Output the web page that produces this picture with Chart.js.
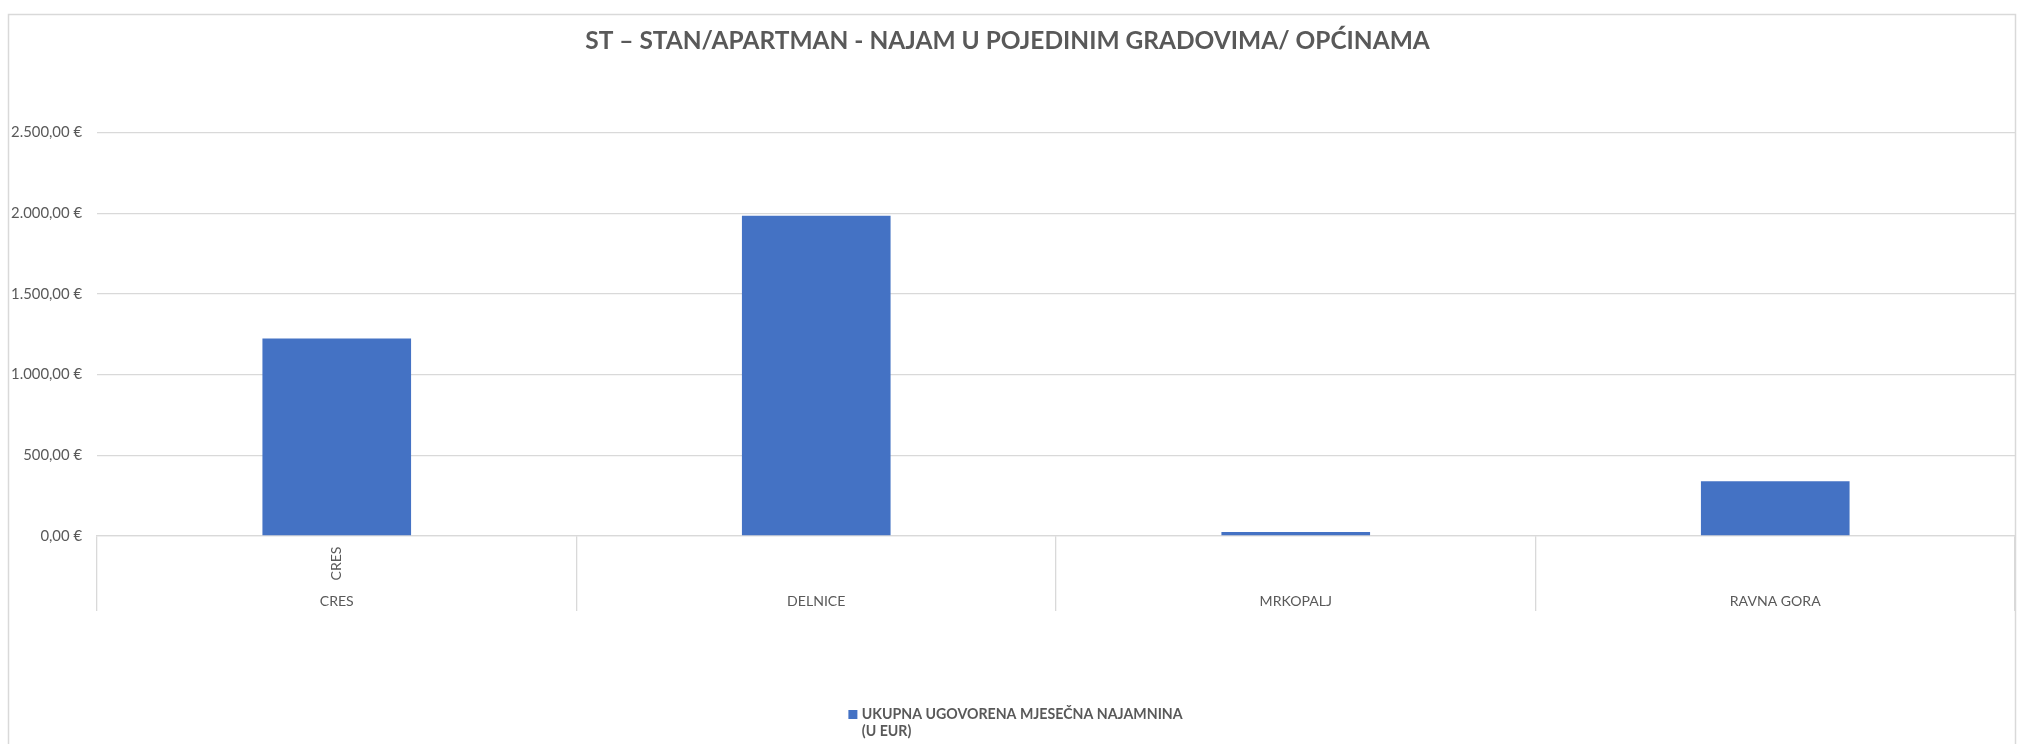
<!DOCTYPE html>
<html>
<head>
<meta charset="utf-8">
<script src="https://cdn.jsdelivr.net/npm/chart.js@4"></script>
<style>
html, body { margin:0; padding:0; background:#fff; }
</style>
</head>
<body>
<canvas id="rentChart" width="2028" height="744"></canvas>
<script>
// =========================================
// DATA
// =========================================

const cities = ["CRES", "DELNICE", "MRKOPALJ", "RAVNA GORA"];
const innerLabels = ["CRES", "", "", ""];
const rentValues = [1225, 1985, 25, 340];

const yTicks = [0, 500, 1000, 1500, 2000, 2500];
const yTickLabels = ["0,00 €", "500,00 €", "1.000,00 €", "1.500,00 €", "2.000,00 €", "2.500,00 €"];

const chartTitle = "ST – STAN/APARTMAN - NAJAM U POJEDINIM GRADOVIMA/ OPĆINAMA";
const legendLines = ["UKUPNA UGOVORENA MJESEČNA NAJAMNINA", "(U EUR)"];

// =========================================
// LOOK
// =========================================

const FONT = 'Lato, "Open Sans", sans-serif';
const TEXT = '#595959';
const LINE = '#d9d9d9';
const BAR = '#4472c4';

// size fonts so the text widths match the original (Calibri) widths
const mctx = document.createElement('canvas').getContext('2d');
function fitSize(text, width, weight){
    mctx.font = weight + ' 100px ' + FONT;
    return 100 * width / mctx.measureText(text).width;
}

const titleSize = fitSize(chartTitle, 845, 'bold');
const xSize = fitSize("RAVNA GORA", 91, 'normal');
const ySize = fitSize("2.500,00 €", 71, 'normal');
const legendSize = fitSize(legendLines[0], 321, 'bold');

const TICK_LEN = 75;

// =========================================
// EXTRA DRAWING (frame, inner labels, legend)
// =========================================

const excelBits = {
    id: 'excelBits',
    beforeDraw(chart){
        const c = chart.ctx;
        c.save();
        c.fillStyle = '#fff';
        c.fillRect(0, 0, chart.width, chart.height);
        c.strokeStyle = LINE;
        c.lineWidth = 1.5;
        c.strokeRect(8.5, 14.5, 2007, 800);
        c.restore();
    },
    afterDraw(chart){
        const c = chart.ctx;
        const xs = chart.scales.x;
        c.save();

        // inner category level, rotated
        c.fillStyle = TEXT;
        c.font = xSize + 'px ' + FONT;
        c.textAlign = 'right';
        c.textBaseline = 'middle';
        innerLabels.forEach((lab, i) => {
            if(!lab) return;
            c.save();
            c.translate(xs.getPixelForValue(i), xs.top + 10.5);
            c.rotate(-Math.PI / 2);
            c.fillText(lab, 0, 0);
            c.restore();
        });

        // legend
        c.font = 'bold ' + legendSize + 'px ' + FONT;
        c.textAlign = 'left';
        const textW = c.measureText(legendLines[0]).width;
        const left = 1015.5 - (13.4 + textW) / 2;
        const ds = chart.data.datasets[0];
        c.fillStyle = ds.backgroundColor;
        c.fillRect(left, 710, 9, 9);
        c.fillStyle = TEXT;
        legendLines.forEach((line, i) => {
            c.fillText(line, left + 13.4, 714.5 + i * 17.3);
        });

        c.restore();
    }
};

// =========================================
// CHART
// =========================================

const ctx = document.getElementById('rentChart');

const chart = new Chart(ctx, {

    type: 'bar',

    data: {
        labels: cities,
        datasets: [
            {
                label: legendLines.join(' '),
                data: rentValues,
                backgroundColor: BAR,
                barPercentage: 0.31,
                categoryPercentage: 1
            }
        ]
    },

    options: {

        responsive: false,
        animation: false,

        layout: {
            padding: { left: 0, right: 13, top: 0, bottom: 108 }
        },

        plugins: {
            legend: { display: false },
            tooltip: { enabled: false },
            title: {
                display: true,
                text: chartTitle,
                color: TEXT,
                font: { family: FONT, size: titleSize, weight: 'bold', lineHeight: 1.2 },
                padding: {
                    top: 41 - 0.6 * titleSize,
                    bottom: 132.7 - 41 - 0.6 * titleSize
                }
            }
        },

        scales: {

            x: {
                grid: {
                    drawOnChartArea: false,
                    drawTicks: true,
                    tickLength: TICK_LEN,
                    color: LINE,
                    lineWidth: 1.3
                },
                border: { display: true, color: LINE, width: 1.3 },
                ticks: {
                    color: TEXT,
                    font: { family: FONT, size: xSize },
                    maxRotation: 0,
                    minRotation: 0,
                    autoSkip: false,
                    padding: 601.7 - 536 - TICK_LEN - 0.6 * xSize
                },
                afterFit(scale){ scale.height = 100; }
            },

            y: {
                min: 0,
                max: 2500,
                afterBuildTicks(scale){
                    scale.ticks = yTicks.map(v => ({ value: v }));
                },
                grid: {
                    drawTicks: false,
                    color: LINE,
                    lineWidth: 1.3
                },
                border: { display: false },
                ticks: {
                    color: TEXT,
                    font: { family: FONT, size: ySize },
                    padding: 15,
                    callback: (v) => yTickLabels[yTicks.indexOf(v)]
                },
                afterFit(scale){ scale.width = 97; }
            }
        }
    },

    plugins: [excelBits]
});
</script>
</body>
</html>
